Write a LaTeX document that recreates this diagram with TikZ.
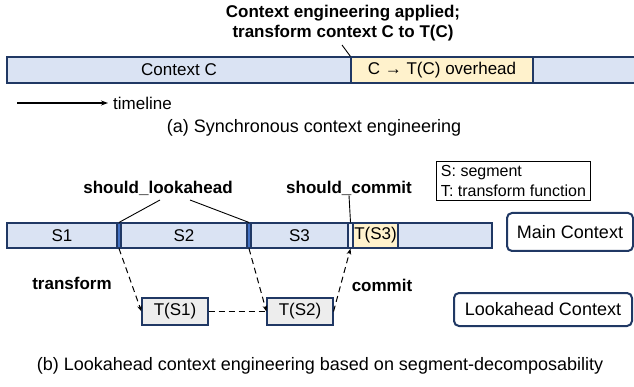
\documentclass[tikz,border=0pt]{standalone}
\usepackage{fontspec}
\setmainfont{Liberation Sans}
\usetikzlibrary{arrows.meta}
\definecolor{cblue}{HTML}{DAE3F3}
\definecolor{cyel}{HTML}{FFF2CC}
\definecolor{cnavy}{HTML}{203864}
\definecolor{cmark}{HTML}{4472C4}
\definecolor{cgray}{HTML}{EDEDED}
\begin{document}
\begin{tikzpicture}[x=1pt,y=-1pt,
  lbl/.style={font=\fontsize{17}{20}\selectfont, inner sep=0pt},
  blbl/.style={font=\fontsize{17}{20}\selectfont\bfseries, inner sep=0pt, align=center},
  captext/.style={font=\fontsize{18}{21}\selectfont, inner sep=0pt},
  cell/.style={draw=cnavy, line width=1.1pt, inner sep=0pt, font=\fontsize{17}{20}\selectfont},
  bluecell/.style={cell, fill=cblue},
  yelcell/.style={cell, fill=cyel},
  markcell/.style={cell, fill=cmark},
  tbox/.style={cell, fill=cgray, minimum width=66pt, minimum height=27pt},
  ctxbox/.style={draw=cnavy, line width=2pt, rounded corners=5pt, fill=white, inner sep=0pt, font=\fontsize{18}{21}\selectfont},
  leader/.style={line width=0.9pt, black},
  dashar/.style={line width=1pt, black, dash pattern=on 6pt off 4pt},
  tip/.style={-{Stealth[length=6pt,width=4.5pt]}}
]
\useasboundingbox (0,0) rectangle (634,387);

% ---------- (a) ----------
\node[blbl] (title) at (343,23) {Context engineering applied;\\transform context C to T(C)};
\node[bluecell, minimum width=344pt, minimum height=26pt] (ctx) at (179,70) {Context C};
\node[yelcell, minimum width=182pt, minimum height=26pt] (ovh) at (442,70) {C → T(C) overhead};
\node[bluecell, minimum width=104pt, minimum height=26pt] (rest) at (585,70) {};
\coordinate (tA) at (342,45);
\draw[leader] (tA) -- (ovh.north west);

\coordinate (tl0) at (17,103);
\node[lbl, anchor=west] (tl) at (113,103) {timeline};
\draw[line width=1.2pt, -{Stealth[length=7pt,width=5pt]}] (tl0) -- ([xshift=-5pt]tl.west);
\node[captext] (capa) at (314,128) {(a) Synchronous context engineering};

% ---------- (b) ----------
\node[draw=black, line width=0.9pt, inner sep=4pt, anchor=north west, align=left,
      font=\fontsize{16}{20}\selectfont, minimum width=154pt] (legend) at (436,161)
      {S: segment\\T: transform function};

\node[blbl] (sla) at (158,188) {should\_lookahead};
\node[blbl] (sco) at (349,188) {should\_commit};

\node[bluecell, minimum width=110pt, minimum height=25pt] (s1) at (62,235.5) {S1};
\node[markcell, minimum width=4pt, minimum height=25pt] (m1) at (119,235.5) {};
\node[bluecell, minimum width=126pt, minimum height=25pt] (s2) at (184,235.5) {S2};
\node[markcell, minimum width=4pt, minimum height=25pt] (m2) at (249,235.5) {};
\node[bluecell, minimum width=97pt, minimum height=25pt] (s3) at (299.5,235.5) {S3};
\node[cell, fill=cblue!40, minimum width=5pt, minimum height=25pt] (cm) at (350.5,235.5) {};
\node[yelcell, minimum width=45pt, minimum height=25pt] (ts3) at (375.5,235.5) {T(S3)};
\node[bluecell, minimum width=94pt, minimum height=25pt] (rest2) at (445,235.5) {};

\node[ctxbox, minimum width=126pt, minimum height=38pt] (main) at (570,232) {Main Context};
\node[ctxbox, minimum width=178pt, minimum height=33pt] (look) at (543,309.5) {Lookahead Context};

\coordinate (la1) at (160,200);
\coordinate (la2) at (190,200);
\draw[leader] (la1) -- (m1.north);
\draw[leader] (la2) -- (m2.north);
\draw[leader] (sco.south) -- (cm.north);

\node[tbox] (t1) at (175,311.5) {T(S1)};
\node[tbox] (t2) at (300,311.5) {T(S2)};

\draw[dashar, tip] (m1.south) -- (t1.west);
\draw[dashar, tip] (m2.south) -- (t2.west);
\draw[dashar] (t1.east) -- (t2.west);
\draw[dashar, tip] (t2.east) -- (cm.south);

\node[blbl] (tr) at (72,283) {transform};
\node[blbl] (co) at (382,285) {commit};

\node[captext] (capb) at (320,366) {(b) Lookahead context engineering based on segment-decomposability};
\end{tikzpicture}
\end{document}
